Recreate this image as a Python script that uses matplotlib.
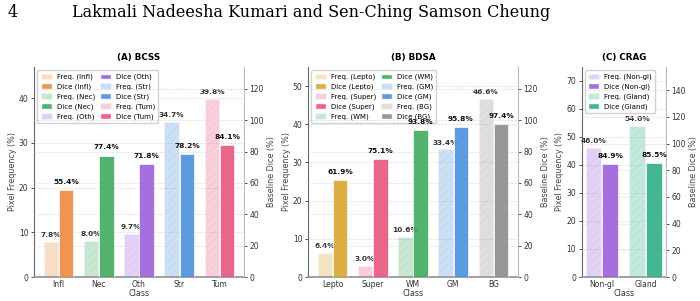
import numpy as np
import matplotlib.pyplot as plt
from matplotlib.patches import Patch

# ---- data ----
bcss_classes = ["Infl", "Nec", "Oth", "Str", "Tum"]
bcss_freq = [7.8, 8.0, 9.7, 34.7, 39.8]
bcss_dice = [55.4, 77.4, 71.8, 78.2, 84.1]
bcss_colors = ["#EB8A3E", "#3FAA5E", "#9A5FDB", "#4A90DB", "#E9557E"]

bdsa_classes = ["Lepto", "Super", "WM", "GM", "BG"]
bdsa_freq = [6.4, 3.0, 10.6, 33.4, 46.6]
bdsa_dice = [61.9, 75.1, 93.8, 95.8, 97.4]
bdsa_colors = ["#D9A530", "#E9557E", "#3FAA5E", "#4A90DB", "#8C8C8C"]

crag_classes = ["Non-gl", "Gland"]
crag_freq = [46.0, 54.0]
crag_dice = [84.9, 85.5]
crag_colors = ["#9A5FDB", "#2FAE8A"]

plt.rcParams['font.family'] = 'DejaVu Sans'
plt.rcParams['hatch.color'] = 'white'
plt.rcParams['hatch.linewidth'] = 0.6


def panel(rect, title, classes, freq, dice, colors, ylim_l, ylim_r, ncol):
    ax = fig.add_axes(rect)
    ax2 = ax.twinx()
    x = np.arange(len(classes))
    w = 0.36
    handles = []
    for i, c in enumerate(classes):
        ax.bar(x[i] - 0.19, freq[i], w, color=colors[i], alpha=0.3,
               hatch='////', edgecolor='white', linewidth=0.5)
        ax2.bar(x[i] + 0.19, dice[i], w, color=colors[i], alpha=0.9,
                edgecolor='white', linewidth=0.5)
        ax.text(x[i] - 0.19, freq[i] + ylim_l * 0.018, f"{freq[i]:.1f}%",
                ha='center', va='bottom', fontsize=5.3, color='#333333',
                fontweight='semibold')
        ax2.text(x[i] + 0.19, dice[i] + ylim_r * 0.025, f"{dice[i]:.1f}%",
                 ha='center', va='bottom', fontsize=5.3, color='#111111',
                 fontweight='bold')
        handles.append(Patch(facecolor=colors[i], alpha=0.3, hatch='////',
                             edgecolor='white', label=f"Freq. ({c})"))
        handles.append(Patch(facecolor=colors[i], alpha=0.9,
                             edgecolor='white', label=f"Dice ({c})"))

    ax.set_ylim(0, ylim_l)
    ax2.set_ylim(0, ylim_r)
    ax.set_xticks(x)
    ax.set_xticklabels(classes)
    ax.set_xlabel("Class", fontsize=5.8, color='#333333', labelpad=0.5)
    ax.set_ylabel("Pixel Frequency (%)", fontsize=5.8, color='#444444',
                  labelpad=1.5)
    ax2.set_ylabel("Baseline Dice (%)", fontsize=5.8, color='#444444',
                   labelpad=2)
    ax.set_title(title, fontsize=6.3, fontweight='bold', pad=5)

    for a in (ax, ax2):
        a.tick_params(labelsize=5.5, colors='#333333', length=2.5, width=0.6,
                      pad=1.5)
        a.grid(axis='y', linestyle='--', linewidth=0.5, color='#dddddd')
        a.set_axisbelow(True)
        a.spines['top'].set_visible(False)
    ax.tick_params(axis='x', length=0, pad=2)
    ax.spines['left'].set_color('#666666')
    ax.spines['bottom'].set_color('#999999')
    ax.spines['bottom'].set_linewidth(1.3)
    ax.spines['right'].set_visible(False)
    ax2.spines['left'].set_visible(False)
    ax2.spines['bottom'].set_visible(False)
    ax2.spines['right'].set_color('#bbbbbb')

    ax.legend(handles=handles, loc='upper left', ncol=ncol, fontsize=5.0,
              frameon=True, framealpha=0.9, edgecolor='#cccccc',
              handlelength=1.6, handleheight=0.9, columnspacing=0.7,
              labelspacing=0.45, borderpad=0.45, handletextpad=0.7)
    return ax, ax2


fig = plt.figure(figsize=(7, 3.01), dpi=100)

panel([0.0486, 0.0797, 0.3, 0.698], "(A) BCSS", bcss_classes, bcss_freq,
      bcss_dice, bcss_colors, 47, 134, 2)
panel([0.44, 0.0797, 0.3, 0.698], "(B) BDSA", bdsa_classes, bdsa_freq,
      bdsa_dice, bdsa_colors, 55, 134, 2)
panel([0.831, 0.0797, 0.12, 0.698], "(C) CRAG", crag_classes, crag_freq,
      crag_dice, crag_colors, 75, 157.5, 1)

# page header
fig.text(0.011, 0.958, "4", fontsize=11.5, family='DejaVu Serif', va='center')
fig.text(0.103, 0.958, "Lakmali Nadeesha Kumari and Sen-Ching Samson Cheung",
         fontsize=11.5, family='DejaVu Serif', va='center')

fig.savefig("out.png", dpi=100)
